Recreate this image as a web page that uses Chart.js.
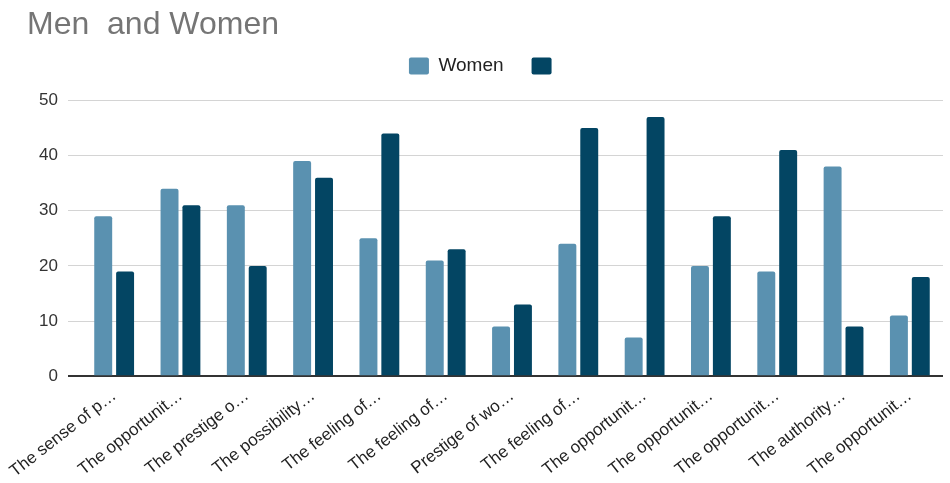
<!DOCTYPE html>
<html>
<head>
<meta charset="utf-8">
<script src="https://cdn.jsdelivr.net/npm/chart.js@4.4.1/dist/chart.umd.min.js"></script>
<style>
  html, body { margin: 0; padding: 0; background: #fff; }
  .chart-container { width: 950px; height: 483px; position: relative; }
</style>
</head>
<body>
<div class="chart-container"><canvas id="myChart"></canvas></div>
<script>
// categories (truncated as shown in the original chart)
const categories = [
    'The sense of p\u2026', 'The opportunit\u2026', 'The prestige o\u2026', 'The possibility\u2026',
    'The feeling of\u2026', 'The feeling of\u2026', 'Prestige of wo\u2026', 'The feeling of\u2026',
    'The opportunit\u2026', 'The opportunit\u2026', 'The opportunit\u2026', 'The authority\u2026',
    'The opportunit\u2026'
];
const womenValues = [29, 34, 31, 39, 25, 21, 9, 24, 7, 20, 19, 38, 11];
const menValues = [19, 31, 20, 36, 44, 23, 13, 45, 47, 29, 41, 9, 18];
const yTicks = [0, 10, 20, 30, 40, 50];

const GRID = '#d4d4d4';
const ZERO = '#333333';

// extra room under the legend
const legendGap = {
    id: 'legendGap',
    beforeInit(chart) {
        const fit = chart.legend.fit;
        chart.legend.fit = function () {
            fit.bind(chart.legend)();
            this.height += 15;
        };
    }
};

const ctx = document.getElementById('myChart').getContext('2d');

window.myChart = new Chart(ctx, {
    type: 'bar',
    data: {
        labels: categories,
        datasets: [{
            label: 'Women',
            data: womenValues,
            backgroundColor: '#5a91b0',
            borderRadius: 2,
            categoryPercentage: 0.66,
            barPercentage: 0.82
        }, {
            label: '',
            data: menValues,
            backgroundColor: '#034563',
            borderRadius: 2,
            categoryPercentage: 0.66,
            barPercentage: 0.82
        }]
    },
    options: {
        responsive: true,
        maintainAspectRatio: false,
        animation: false,
        layout: { padding: { left: 27, right: 7, top: 0, bottom: 0 } },
        scales: {
            y: {
                min: 0,
                max: 50,
                afterBuildTicks: axis => { axis.ticks = yTicks.map(v => ({ value: v })); },
                afterFit: axis => { axis.width = 54; },
                border: { display: false },
                grid: {
                    color: c => c.tick.value === 0 ? ZERO : GRID,
                    tickColor: c => c.tick.value === 0 ? ZERO : GRID,
                    lineWidth: c => c.tick.value === 0 ? 2 : 1,
                    drawTicks: true,
                    tickLength: 13
                },
                ticks: {
                    padding: 10,
                    color: '#333333',
                    font: { family: 'Liberation Sans, Arial', size: 17 }
                }
            },
            x: {
                afterFit: axis => { axis.paddingLeft = 0; },
                border: { display: false },
                grid: { display: false },
                ticks: {
                    minRotation: 38,
                    maxRotation: 38,
                    autoSkip: false,
                    padding: 1.5,
                    color: '#222222',
                    font: { family: 'Liberation Sans, Arial', size: 17 }
                }
            }
        },
        plugins: {
            title: {
                display: true,
                text: 'Men  and Women',
                align: 'start',
                color: '#757575',
                font: { family: 'Liberation Sans, Arial', size: 32, weight: 'normal', lineHeight: 1.2 },
                padding: { top: 6, bottom: -16 }
            },
            legend: {
                labels: {
                    boxWidth: 20,
                    boxHeight: 17,
                    padding: 28,
                    color: '#222222',
                    useBorderRadius: true,
                    borderRadius: 2,
                    font: { family: 'Liberation Sans, Arial', size: 19 }
                }
            },
            tooltip: { enabled: false }
        }
    },
    plugins: [legendGap]
});
</script>
</body>
</html>
